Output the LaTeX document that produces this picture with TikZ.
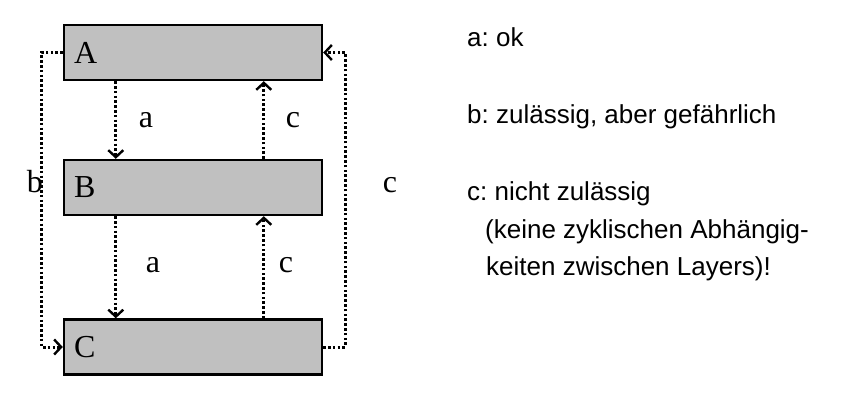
\documentclass[tikz,border=0pt]{standalone}
\usepackage{fontspec}
\setmainfont{Liberation Serif}
\newfontfamily\sansf{Liberation Sans}
\usetikzlibrary{arrows.meta,calc}
\frenchspacing
\tikzset{
  layer/.style={draw=black, line width=2.4pt, fill={rgb,255:red,192;green,192;blue,192},
    minimum width=258pt, minimum height=55pt, text width=238pt, align=left,
    inner xsep=10pt, inner ysep=0pt, font=\fontsize{32}{36}\selectfont},
  conn/.style={line width=3pt, dash pattern=on 2.6pt off 2.2pt,
    -{Straight Barb[length=7pt,width=15pt,line width=2.4pt]}},
  lbl/.style={anchor=base, inner sep=0pt, font=\fontsize{32}{36}\selectfont},
  note/.style={anchor=base west, inner sep=0pt, font=\sansf\fontsize{26}{30}\selectfont}
}
\begin{document}
\begin{tikzpicture}[x=1pt,y=-1pt]
\useasboundingbox (0,0) rectangle (841,420);
\node[layer] (A) at (193,52.5) {A};
\node[layer] (B) at (193,187.5) {B};
\node[layer] (C) at (193,347) {C};
% a arrows
\draw[conn] ($(A.south west)+(53,0)$) -- ($(B.north west)+(53,0)$);
\draw[conn] ($(B.south west)+(53,0)$) -- ($(C.north west)+(53,0)$);
% c arrows
\draw[conn] ($(C.north west)+(201,0)$) -- ($(B.south west)+(201,0)$);
\draw[conn] ($(B.north west)+(201,0)$) -- ($(A.south west)+(201,0)$);
% b
\draw[conn] (A.west) -- ++(-21,0) |- (C.west);
% c outer
\draw[conn] (C.east) -- ++(22,0) |- (A.east);
% labels
\node[lbl] (la1) at (146,128) {a};
\node[lbl] (lc1) at (293,128) {c};
\node[lbl] (la2) at (153,272) {a};
\node[lbl] (lc2) at (286,272) {c};
\node[lbl] (lb) at (35,192) {b};
\node[lbl] (lc3) at (390,192) {c};
% notes
\node[note] (n1) at (467,47) {a: ok};
\node[note] (n2) at (467,124) {b: zulässig, aber gefährlich};
\node[note] (n3) at (467,200) {c: nicht zulässig};
\node[note] (n4) at (485,238) {(keine zyklischen Abhängig-};
\node[note] (n5) at (486,275) {keiten zwischen Layers)!};
\end{tikzpicture}
\end{document}
